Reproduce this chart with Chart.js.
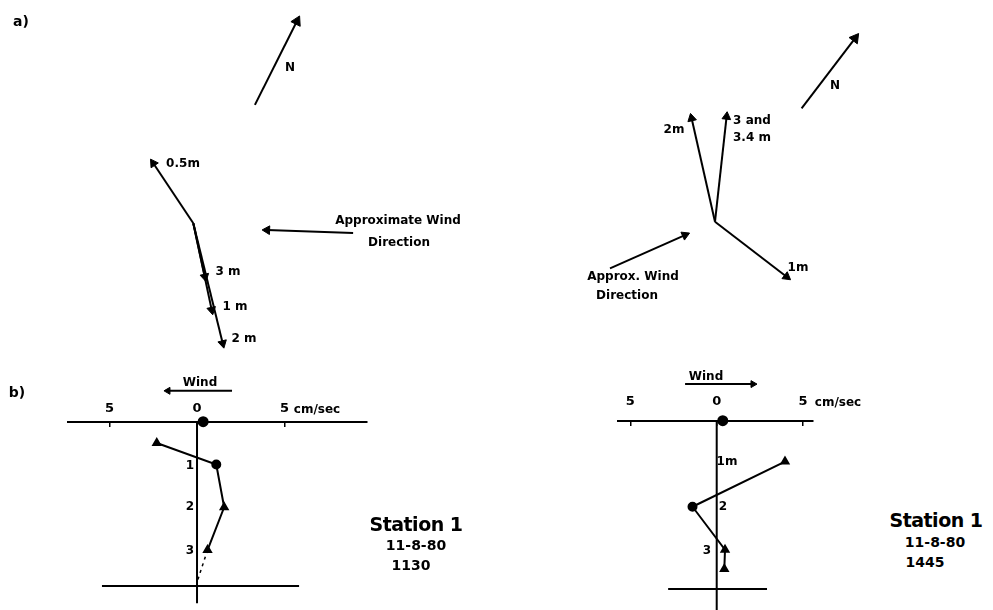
<!DOCTYPE html>
<html>
<head>
<meta charset="utf-8">
<script src="https://cdn.jsdelivr.net/npm/chart.js@4.4.1/dist/chart.umd.min.js"></script>
<style>
  body { margin: 0; background: #fff; }
  #page { position: relative; width: 993px; height: 610px; overflow: hidden;
          font-family: "DejaVu Sans", sans-serif; font-weight: bold; color: #000; }
  #page canvas { position: absolute; }
  .lbl { position: absolute; transform: translate(-50%, -50%); white-space: nowrap;
         font-size: 12px; letter-spacing: 0; line-height: 1; }
  .big { font-size: 19px; letter-spacing: -0.5px; }
  .mid { font-size: 14px; }
</style>
</head>
<body>
<div id="page">
  <canvas id="vec-left" width="480" height="360" style="left:0;top:0"></canvas>
  <canvas id="vec-right" width="433" height="330" style="left:560px;top:0"></canvas>
  <canvas id="prof-left" width="340" height="250" style="left:50px;top:360px"></canvas>
  <canvas id="prof-right" width="260" height="250" style="left:590px;top:360px"></canvas>

  <div class="lbl mid" style="left:21px;top:21px">a)</div>
  <div class="lbl mid" style="left:17px;top:392px">b)</div>

  <div class="lbl" style="left:290px;top:67px">N</div>
  <div class="lbl" style="left:183px;top:163px">0.5m</div>
  <div class="lbl" style="left:228px;top:271px">3 m</div>
  <div class="lbl" style="left:235px;top:306px">1 m</div>
  <div class="lbl" style="left:244px;top:338px">2 m</div>
  <div class="lbl" style="left:398px;top:220px">Approximate Wind</div>
  <div class="lbl" style="left:399px;top:242px">Direction</div>

  <div class="lbl" style="left:835px;top:85px">N</div>
  <div class="lbl" style="left:674px;top:129px">2m</div>
  <div class="lbl" style="left:752px;top:120px">3 and</div>
  <div class="lbl" style="left:752px;top:137px">3.4 m</div>
  <div class="lbl" style="left:798px;top:267px">1m</div>
  <div class="lbl" style="left:633px;top:276px">Approx. Wind</div>
  <div class="lbl" style="left:627px;top:295px">Direction</div>

  <div class="lbl" style="left:200px;top:382px">Wind</div>
  <div class="lbl" style="left:317px;top:409px">cm/sec</div>
  <div class="lbl" style="left:190px;top:465px">1</div>
  <div class="lbl" style="left:190px;top:506px">2</div>
  <div class="lbl" style="left:190px;top:550px">3</div>
  <div class="lbl big" style="left:416px;top:524px">Station 1</div>
  <div class="lbl mid" style="left:416px;top:545px">11-8-80</div>
  <div class="lbl mid" style="left:411px;top:565px">1130</div>

  <div class="lbl" style="left:706px;top:376px">Wind</div>
  <div class="lbl" style="left:838px;top:402px">cm/sec</div>
  <div class="lbl" style="left:727px;top:461px">1m</div>
  <div class="lbl" style="left:723px;top:506px">2</div>
  <div class="lbl" style="left:707px;top:550px">3</div>
  <div class="lbl big" style="left:936px;top:520px">Station 1</div>
  <div class="lbl mid" style="left:935px;top:542px">11-8-80</div>
  <div class="lbl mid" style="left:925px;top:562px">1445</div>
</div>

<script>
// a) current vectors at station 1, plot units with y pointing up, tail at the mooring
const VEC1_U = [-2.0, 0.58, 0.92, 1.47];     // 0.5 m, 3 m, 1 m, 2 m
const VEC1_V = [3.0, -2.67, -4.33, -6.0];
const VEC1_NORTH = [[3.08, 5.92], [5.18, 10.1]];
const VEC1_WIND = [[7.99, -0.49], [3.69, -0.34]];

const VEC2_U = [-1.17, 0.58, 3.58];          // 2 m, 3 and 3.4 m, 1 m
const VEC2_V = [5.17, 5.25, -2.75];
const VEC2_NORTH = [[4.33, 5.67], [7.0, 9.17]];
const VEC2_WIND = [[-5.25, -2.33], [-1.5, -0.67]];

// b) speed profiles, cm/sec against depth in m
const SPEED_TICKS = [-5, 0, 5];

const PROF1_DEPTH = [0.5, 1.0, 2.0, 3.0];
const PROF1_SPEED = [-2.3, 1.1, 1.55, 0.6];
const PROF1_SHAPES = ["triangle", "circle", "triangle", "triangle"];
const PROF1_SURFACE = 0.35;
const PROF1_BOTTOM = 3.84;
const PROF1_EXTRAP = [[0.6, 3.0], [0, 3.75]];
const PROF1_WIND = [[2.0, -0.72], [-1.66, -0.72]];

const PROF2_DEPTH = [0.95, 2.0, 3.0, 3.45];
const PROF2_SPEED = [3.95, -1.4, 0.48, 0.44];
const PROF2_SHAPES = ["triangle", "circle", "triangle", "triangle"];
const PROF2_SURFACE = 0.35;
const PROF2_BOTTOM = 3.91;
const PROF2_WIND = [[-1.83, -0.85], [2.1, -0.85]];

Chart.defaults.font.family = '"DejaVu Sans", sans-serif';
Chart.defaults.color = "#000";

function line(pts, width, dash) {
  return {
    data: pts.map(p => ({ x: p[0], y: p[1] })),
    showLine: true,
    borderColor: "#000",
    borderWidth: width || 2,
    borderDash: dash || [],
    pointRadius: 0,
    clip: false,
  };
}

// line with a triangle head, dirY = -1 when the y axis is reversed
function arrow(tail, head, size, dirY) {
  const ds = line([tail, head], 2);
  const ang = Math.atan2(head[0] - tail[0], (head[1] - tail[1]) * dirY) * 180 / Math.PI;
  ds.pointRadius = [0, size];
  ds.pointStyle = "triangle";
  ds.pointRotation = [0, ang];
  ds.pointBackgroundColor = "#000";
  ds.pointBorderWidth = 1;
  return ds;
}

function baseOptions(padding) {
  return {
    responsive: false,
    animation: false,
    events: [],
    layout: { autoPadding: false, padding: padding },
    plugins: { legend: { display: false }, tooltip: { enabled: false } },
  };
}

function vectorChart(id, us, vs, north, wind, xr, yr) {
  const ds = us.map((u, i) => arrow([0, 0], [u, vs[i]], 5, 1));
  ds.push(arrow(north[0], north[1], 6, 1));
  ds.push(arrow(wind[0], wind[1], 5, 1));
  const opts = baseOptions(0);
  opts.scales = {
    x: { display: false, min: xr[0], max: xr[1] },
    y: { display: false, min: yr[0], max: yr[1] },
  };
  new Chart(document.getElementById(id), { type: "scatter", data: { datasets: ds }, options: opts });
}

function profileChart(id, cfg) {
  const pts = cfg.speed.map((s, i) => [s, cfg.depth[i]]);
  const profile = line(pts, 2);
  profile.pointRadius = 4;
  profile.pointStyle = cfg.shapes;
  profile.pointBackgroundColor = "#000";
  profile.pointBorderColor = "#000";

  const ds = [
    line([[0, 0], [0, cfg.axisEnd]], 2),
    line([[cfg.bottomX[0], cfg.bottom], [cfg.bottomX[1], cfg.bottom]], 2),
    profile,
    arrow(cfg.wind[0], cfg.wind[1], 4, -1),
  ];
  const surf = line([[cfg.surface, 0]], 2);
  surf.pointRadius = 4.5;
  surf.pointBackgroundColor = "#000";
  surf.pointBorderColor = "#000";
  ds.push(surf);
  if (cfg.extrap) ds.push(line(cfg.extrap, 1.5, [3, 4]));

  const opts = baseOptions(cfg.pad);
  opts.scales = {
    x: {
      position: { y: 0 },
      min: cfg.xr[0],
      max: cfg.xr[1],
      afterFit: s => { s.height = 0; },
      afterBuildTicks: s => { s.ticks = SPEED_TICKS.map(v => ({ value: v })); },
      grid: { display: true, drawOnChartArea: false, drawTicks: true, tickLength: 4, color: "#000", lineWidth: 1.5 },
      border: { display: true, color: "#000", width: 2 },
      ticks: {
        color: "#000",
        padding: cfg.tickPad,
        maxRotation: 0,
        autoSkip: false,
        font: { size: 13, weight: "bold" },
        callback: v => String(Math.abs(v)),
      },
    },
    y: { display: false, reverse: true, min: cfg.yr[0], max: cfg.yr[1] },
  };
  new Chart(document.getElementById(id), { type: "scatter", data: { datasets: ds }, options: opts });
}

vectorChart("vec-left", VEC1_U, VEC1_V, VEC1_NORTH, VEC1_WIND, [-9.665, 14.335], [-6.835, 11.165]);
vectorChart("vec-right", VEC2_U, VEC2_V, VEC2_NORTH, VEC2_WIND, [-7.75, 13.9], [-5.415, 11.085]);

profileChart("prof-left", {
  speed: PROF1_SPEED, depth: PROF1_DEPTH, shapes: PROF1_SHAPES,
  surface: PROF1_SURFACE, bottom: PROF1_BOTTOM, bottomX: [-5.43, 5.83],
  extrap: PROF1_EXTRAP, wind: PROF1_WIND, axisEnd: 4.24,
  xr: [-7.37, 9.71], yr: [-1.44, 4.40],
  pad: { left: 18, right: 23, top: 0, bottom: 0 }, tickPad: -25,
});

profileChart("prof-right", {
  speed: PROF2_SPEED, depth: PROF2_DEPTH, shapes: PROF2_SHAPES,
  surface: PROF2_SURFACE, bottom: PROF2_BOTTOM, bottomX: [-2.81, 2.91],
  extrap: null, wind: PROF2_WIND, axisEnd: 4.4,
  xr: [-5.71, 5.57], yr: [-1.41, 4.40],
  pad: { left: 28, right: 37, top: 0, bottom: 0 }, tickPad: -31,
});
</script>
</body>
</html>
